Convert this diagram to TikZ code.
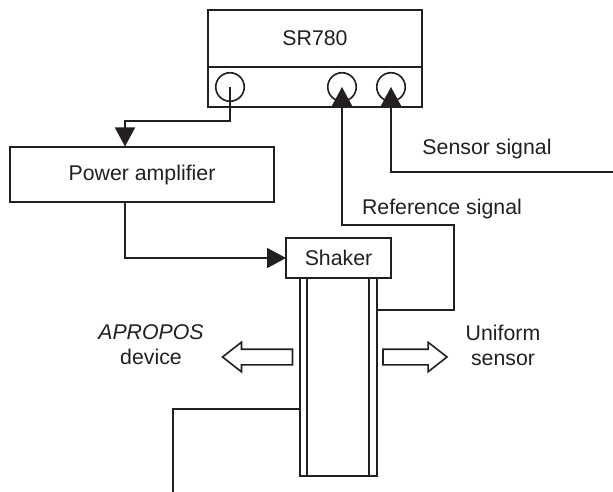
\documentclass[tikz,border=0pt]{standalone}
\usepackage{fontspec}
\setmainfont{Liberation Sans}
\usepackage{xcolor}
\usetikzlibrary{arrows.meta,shapes.arrows}
\definecolor{DiagInk}{HTML}{231F20}

\begin{document}
\begin{tikzpicture}[
  x=1pt,y=-1pt,
  every node/.style={text=DiagInk,font=\fontsize{21.3}{25}\selectfont},
  box/.style={draw=DiagInk,line width=1.8pt,inner sep=0pt,outer sep=0pt},
  port/.style={circle,draw=DiagInk,line width=1.6pt,minimum size=28.5pt,inner sep=0pt},
  wire/.style={draw=DiagInk,line width=1.8pt},
  feed/.style={wire,-{Triangle[length=19pt,width=20pt]}},
  hollow/.style={single arrow,draw=DiagInk,line width=1.6pt,inner xsep=0pt,inner ysep=7pt,minimum width=28pt,single arrow head extend=7pt,single arrow tip angle=76}
]
\useasboundingbox (0,0) rectangle (613,492);
% analyser with its three inputs
\node[box,minimum width=214pt,minimum height=57pt] (sr) at (315,38.5) {SR780};
\node[box,minimum width=214pt,minimum height=40pt] (panel) at (315,87) {};
\node[port] (p1) at (230,87) {};
\node[port] (p2) at (342,87) {};
\node[port] (p3) at (391,87) {};
% amplifier and shaker
\node[box,minimum width=264pt,minimum height=55pt] (amp) at (142,174.5) {Power amplifier};
\node[box,minimum width=105pt,minimum height=40pt] (shaker) at (338.5,258) {Shaker};
% sensor tube
\node[box,minimum width=77pt,minimum height=198pt] (tube) at (338.5,377) {};
\node[box,minimum width=62pt,minimum height=198pt] (bore) at (338,377) {};
% connection points
\coordinate (ampin) at (125,146.5);
\coordinate (ampout) at (125,202);
\coordinate (tubeR) at (377,310);
\coordinate (tubeL) at (300,409);
\coordinate (sigend) at (613,172);
\coordinate (devend) at (173,492);
% wires
\draw[feed] (p1.center) -- (230,121) -| (ampin);
\draw[feed] (ampout) |- (shaker.west);
\draw[feed] (tubeR) -| (454,225) -| (p2.center);
\draw[feed] (sigend) -| (p3.center);
\draw[wire] (tubeL) -| (devend);
% labels
\node (senslab) at (487,149) {Sensor signal};
\node (reflab) at (442,209) {Reference signal};
\node[align=center] (aproposlab) at (151,345) {\textit{APROPOS}\\device};
\node[align=center] (uniformlab) at (503,345) {Uniform\\sensor};
% hollow arrows
\node[hollow,minimum height=70pt,shape border rotate=180] (left) at (262.5,357) {};
\node[hollow,minimum height=64pt] (right) at (410,357) {};
\end{tikzpicture}
\end{document}
